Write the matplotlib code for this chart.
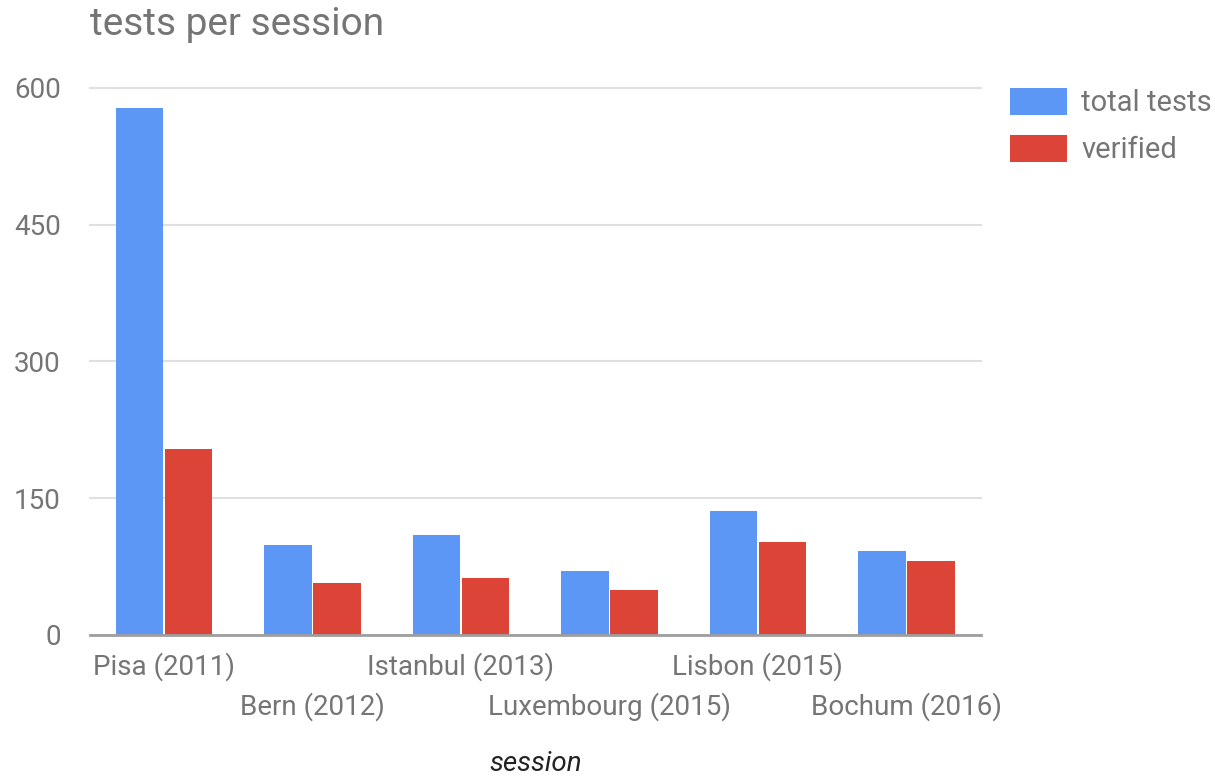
import numpy as np
import matplotlib.pyplot as plt

plt.rcParams['font.family'] = ['Roboto', 'DejaVu Sans']

sessions = ["Pisa (2011)", "Bern (2012)", "Istanbul (2013)",
            "Luxembourg (2015)", "Lisbon (2015)", "Bochum (2016)"]
total_tests = [578, 99, 109, 70, 136, 92]
verified = [204, 57, 62, 49, 102, 81]

blue = "#5c97f5"
red = "#db4437"
text_gray = "#757575"

fig = plt.figure(figsize=(12.15, 7.77), dpi=100)
ax = fig.add_axes([0.074, 0.183, 0.733, 0.704])

x = np.arange(len(sessions))
w = 0.32
ax.bar(x - w / 2 - 0.005, total_tests, w, color=blue, label="total tests", zorder=3)
ax.bar(x + w / 2 + 0.005, verified, w, color=red, label="verified", zorder=3)

ax.set_xlim(-0.5, 5.5)
ax.set_ylim(0, 600)
ax.set_yticks([0, 150, 300, 450, 600])
ax.yaxis.grid(True, color="#e0e0e0", linewidth=1.5, zorder=0)
for gl in ax.get_ygridlines():
    gl.set_clip_on(False)
ax.axhline(0, color="#9e9e9e", linewidth=2, zorder=4, clip_on=False)

for s in ax.spines.values():
    s.set_visible(False)
ax.tick_params(axis="both", length=0, colors=text_gray, labelsize=20)
ax.tick_params(axis="y", pad=21)

ax.set_xticks(x)
ax.set_xticklabels([])
for i, name in enumerate(sessions):
    off = -32 if i % 2 == 0 else -72
    ax.annotate(name, (i, 0), xycoords=("data", "axes fraction"),
                xytext=(0, off), textcoords="offset pixels",
                ha="center", va="center", color=text_gray, fontsize=20)

ax.text(0.5, -0.236, "session", transform=ax.transAxes, ha="center", va="center",
        style="italic", color="#222222", fontsize=20)

fig.text(0.074, 0.968, "tests per session", ha="left", va="center",
         color=text_gray, fontsize=28)

leg = ax.legend(loc="upper left", bbox_to_anchor=(1.033, 1.0), frameon=False,
                fontsize=21, handlelength=1.96, handleheight=1.05,
                labelspacing=0.6, handletextpad=0.48, borderaxespad=0,
                borderpad=0)
for t in leg.get_texts():
    t.set_color(text_gray)

fig.savefig("out.png", dpi=100)
